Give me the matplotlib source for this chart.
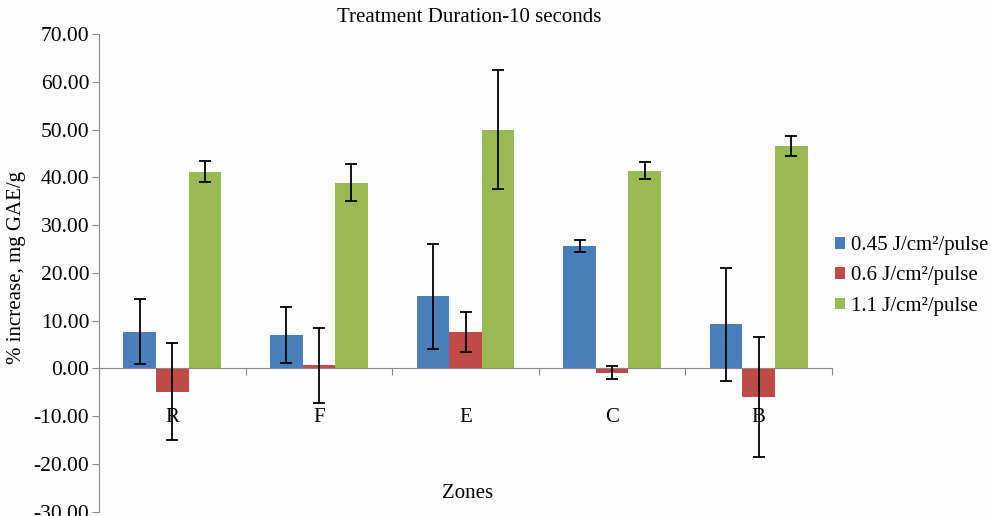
import numpy as np
import matplotlib.pyplot as plt

plt.rcParams['font.family'] = ['Liberation Serif', 'DejaVu Serif']

zones = ["R", "F", "E", "C", "B"]
series = ["0.45 J/cm²/pulse", "0.6 J/cm²/pulse", "1.1 J/cm²/pulse"]
vals_045 = [7.7, 7.0, 15.1, 25.6, 9.2]
err_045 = [6.9, 5.8, 11.0, 1.25, 11.8]
vals_06 = [-4.9, 0.6, 7.6, -0.9, -6.0]
err_06 = [10.2, 7.9, 4.2, 1.3, 12.6]
vals_11 = [41.2, 38.9, 50.0, 41.4, 46.6]
err_11 = [2.2, 3.85, 12.5, 1.7, 2.05]
colors = ["#4A7EBB", "#BE4B48", "#98B954"]

fig = plt.figure(figsize=(9.91, 5.16), dpi=100, facecolor="#FDFDFD")
ax = fig.add_axes([99 / 991, 4.4 / 516, (832 - 99) / 991, (511.6 - 34) / 516])
ax.set_facecolor("#FDFDFD")

x = np.arange(len(zones)) + 0.5
w = 0.222
for k, (v, e) in enumerate([(vals_045, err_045), (vals_06, err_06), (vals_11, err_11)]):
    ax.bar(x + (k - 1) * w, v, w, color=colors[k], label=series[k], zorder=2)
    ax.errorbar(x + (k - 1) * w, v, yerr=e, fmt="none", ecolor="black",
                elinewidth=1.3, capsize=4, capthick=1.3, zorder=3)

ax.set_xlim(0, 5)
ax.set_ylim(-30, 70)
ax.set_yticks(np.arange(-30, 71, 10))
ax.set_yticklabels([f"{t:.2f}" for t in np.arange(-30, 71, 10)], fontsize=15.5)
ax.tick_params(axis="y", direction="out", length=5, color="#888888", pad=2)

ax.spines["top"].set_visible(False)
ax.spines["right"].set_visible(False)
ax.spines["left"].set_color("#888888")
ax.spines["bottom"].set_color("#888888")
ax.spines["bottom"].set_position(("data", 0))
ax.set_xticks(np.arange(0, 6))
ax.set_xticklabels([])
ax.tick_params(axis="x", direction="out", length=5, color="#888888")
for xi, z in zip(x, zones):
    ax.text(xi, -10.2, z, ha="center", va="center", fontsize=15)

fig.text(469 / 991, 1 - 18 / 516, "Treatment Duration-10 seconds", ha="center", va="center", fontsize=15)
fig.text(468 / 991, 1 - 493 / 516, "Zones", ha="center", va="center", fontsize=15)
fig.text(17 / 991, 1 - 268 / 516, "% increase, mg GAE/g", ha="center", va="center",
         rotation=90, fontsize=15)

ax.legend(loc="center left", bbox_to_anchor=(835 / 991, 1 - 276 / 516), bbox_transform=fig.transFigure,
          frameon=False, fontsize=15, handlelength=0.5, handleheight=0.5, handletextpad=0.25,
          labelspacing=0.55, borderaxespad=0, borderpad=0)

fig.savefig("out.png", dpi=100, facecolor=fig.get_facecolor())
